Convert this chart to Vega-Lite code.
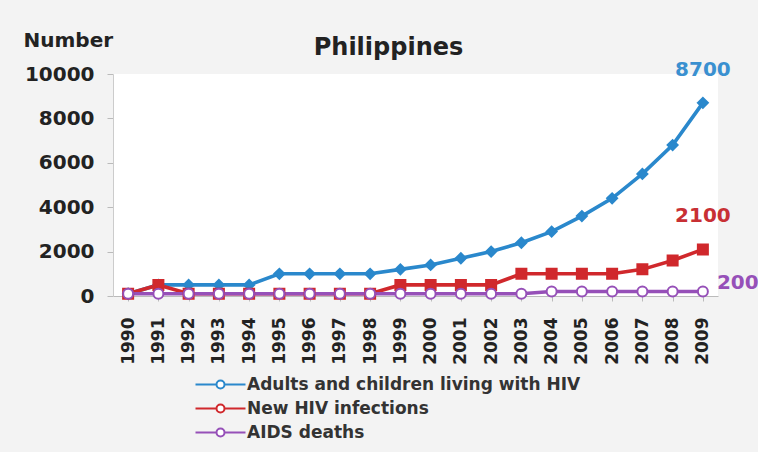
{
  "$schema": "https://vega.github.io/schema/vega-lite/v6.json",
  "autosize": {"type": "none"},
  "width": 605,
  "height": 222,
  "padding": {"left": 113, "top": 74, "right": 40, "bottom": 156},
  "background": "#f3f3f3",
  "config": {
    "view": {"fill": "white", "stroke": null},
    "font": "DejaVu Sans"
  },
  "title": {
    "text": "Philippines",
    "fontSize": 24,
    "fontWeight": "bold",
    "color": "#222222",
    "anchor": "middle",
    "dx": -27,
    "offset": -30
  },
  "datasets": {
    "main": [
      {"year": "1990", "series": "Adults and children living with HIV", "value": 100},
      {"year": "1991", "series": "Adults and children living with HIV", "value": 500},
      {"year": "1992", "series": "Adults and children living with HIV", "value": 500},
      {"year": "1993", "series": "Adults and children living with HIV", "value": 500},
      {"year": "1994", "series": "Adults and children living with HIV", "value": 500},
      {"year": "1995", "series": "Adults and children living with HIV", "value": 1000},
      {"year": "1996", "series": "Adults and children living with HIV", "value": 1000},
      {"year": "1997", "series": "Adults and children living with HIV", "value": 1000},
      {"year": "1998", "series": "Adults and children living with HIV", "value": 1000},
      {"year": "1999", "series": "Adults and children living with HIV", "value": 1200},
      {"year": "2000", "series": "Adults and children living with HIV", "value": 1400},
      {"year": "2001", "series": "Adults and children living with HIV", "value": 1700},
      {"year": "2002", "series": "Adults and children living with HIV", "value": 2000},
      {"year": "2003", "series": "Adults and children living with HIV", "value": 2400},
      {"year": "2004", "series": "Adults and children living with HIV", "value": 2900},
      {"year": "2005", "series": "Adults and children living with HIV", "value": 3600},
      {"year": "2006", "series": "Adults and children living with HIV", "value": 4400},
      {"year": "2007", "series": "Adults and children living with HIV", "value": 5500},
      {"year": "2008", "series": "Adults and children living with HIV", "value": 6800},
      {"year": "2009", "series": "Adults and children living with HIV", "value": 8700},
      {"year": "1990", "series": "New HIV infections", "value": 100},
      {"year": "1991", "series": "New HIV infections", "value": 500},
      {"year": "1992", "series": "New HIV infections", "value": 100},
      {"year": "1993", "series": "New HIV infections", "value": 100},
      {"year": "1994", "series": "New HIV infections", "value": 100},
      {"year": "1995", "series": "New HIV infections", "value": 100},
      {"year": "1996", "series": "New HIV infections", "value": 100},
      {"year": "1997", "series": "New HIV infections", "value": 100},
      {"year": "1998", "series": "New HIV infections", "value": 100},
      {"year": "1999", "series": "New HIV infections", "value": 500},
      {"year": "2000", "series": "New HIV infections", "value": 500},
      {"year": "2001", "series": "New HIV infections", "value": 500},
      {"year": "2002", "series": "New HIV infections", "value": 500},
      {"year": "2003", "series": "New HIV infections", "value": 1000},
      {"year": "2004", "series": "New HIV infections", "value": 1000},
      {"year": "2005", "series": "New HIV infections", "value": 1000},
      {"year": "2006", "series": "New HIV infections", "value": 1000},
      {"year": "2007", "series": "New HIV infections", "value": 1200},
      {"year": "2008", "series": "New HIV infections", "value": 1600},
      {"year": "2009", "series": "New HIV infections", "value": 2100},
      {"year": "1990", "series": "AIDS deaths", "value": 100},
      {"year": "1991", "series": "AIDS deaths", "value": 100},
      {"year": "1992", "series": "AIDS deaths", "value": 100},
      {"year": "1993", "series": "AIDS deaths", "value": 100},
      {"year": "1994", "series": "AIDS deaths", "value": 100},
      {"year": "1995", "series": "AIDS deaths", "value": 100},
      {"year": "1996", "series": "AIDS deaths", "value": 100},
      {"year": "1997", "series": "AIDS deaths", "value": 100},
      {"year": "1998", "series": "AIDS deaths", "value": 100},
      {"year": "1999", "series": "AIDS deaths", "value": 100},
      {"year": "2000", "series": "AIDS deaths", "value": 100},
      {"year": "2001", "series": "AIDS deaths", "value": 100},
      {"year": "2002", "series": "AIDS deaths", "value": 100},
      {"year": "2003", "series": "AIDS deaths", "value": 100},
      {"year": "2004", "series": "AIDS deaths", "value": 200},
      {"year": "2005", "series": "AIDS deaths", "value": 200},
      {"year": "2006", "series": "AIDS deaths", "value": 200},
      {"year": "2007", "series": "AIDS deaths", "value": 200},
      {"year": "2008", "series": "AIDS deaths", "value": 200},
      {"year": "2009", "series": "AIDS deaths", "value": 200}
    ],
    "labels": [
      {"year": "2009", "series": "Adults and children living with HIV", "value": 8700, "label": "8700"},
      {"year": "2009", "series": "New HIV infections", "value": 2100, "label": "2100"},
      {"year": "2009", "series": "AIDS deaths", "value": 200, "label": "200"}
    ]
  },
  "encoding": {
    "x": {
      "field": "year",
      "type": "ordinal",
      "scale": {"type": "point", "padding": 0.5},
      "axis": {
        "title": null,
        "labelAngle": 270,
        "labelFontSize": 17,
        "labelFontWeight": "bold",
        "labelColor": "#222222",
        "labelPadding": 16,
        "tickColor": "#bbbbbb",
        "tickSize": 5,
        "domainColor": "#bbbbbb"
      }
    },
    "y": {
      "field": "value",
      "type": "quantitative",
      "scale": {"domain": [0, 10000]},
      "axis": {
        "title": "Number",
        "titleAngle": 0,
        "titleAlign": "left",
        "titleBaseline": "middle",
        "titleX": -90,
        "titleY": -34,
        "titleFontSize": 20,
        "titleFontWeight": "bold",
        "titleColor": "#222222",
        "values": [0, 2000, 4000, 6000, 8000, 10000],
        "format": "d",
        "labelFontSize": 20,
        "labelFontWeight": "bold",
        "labelColor": "#222222",
        "labelPadding": 13,
        "grid": false,
        "tickColor": "#bbbbbb",
        "tickSize": 6,
        "domainColor": "#cccccc"
      }
    }
  },
  "layer": [
    {
      "data": {"name": "main"},
      "mark": {"type": "line", "strokeWidth": 3.6},
      "encoding": {
        "color": {
          "field": "series",
          "type": "nominal",
          "scale": {
            "domain": ["Adults and children living with HIV", "New HIV infections", "AIDS deaths"],
            "range": ["#2a88cc", "#d0282c", "#9650b8"]
          },
          "legend": {
            "title": null,
            "orient": "none",
            "legendX": 99,
            "legendY": 302,
            "padding": 0,
            "direction": "vertical",
            "labelFontSize": 17,
            "labelFontWeight": "bold",
            "labelColor": "#333333",
            "labelLimit": 0,
            "rowPadding": 6,
            "symbolType": "M-5,0H-0.8M0.8,0H5M-0.8,0A0.8,0.8 0 1,0 0.8,0A0.8,0.8 0 1,0 -0.8,0",
            "symbolSize": 100,
            "symbolStrokeWidth": 2,
            "symbolFillColor": "white",
            "labelOffset": 18
          }
        }
      }
    },
    {
      "data": {"name": "main"},
      "mark": {"type": "point", "size": 100, "strokeWidth": 2, "opacity": 1, "filled": false},
      "encoding": {
        "shape": {
          "condition": [
            {"test": "datum.series === 'Adults and children living with HIV'", "value": "diamond"},
            {"test": "datum.series === 'New HIV infections'", "value": "square"}
          ],
          "value": "circle"
        },
        "stroke": {
          "condition": [
            {"test": "datum.series === 'Adults and children living with HIV'", "value": "#2a88cc"},
            {"test": "datum.series === 'New HIV infections'", "value": "#d0282c"}
          ],
          "value": "#9650b8"
        },
        "fill": {
          "condition": [
            {"test": "datum.series === 'Adults and children living with HIV'", "value": "#2a88cc"},
            {"test": "datum.series === 'New HIV infections'", "value": "#d0282c"}
          ],
          "value": "#ffffff"
        }
      }
    },
    {
      "data": {"name": "labels"},
      "transform": [{"filter": "datum.series !== 'AIDS deaths'"}],
      "mark": {"type": "text", "fontSize": 20, "fontWeight": "bold", "align": "center", "baseline": "middle", "dx": 0, "dy": -33},
      "encoding": {
        "text": {"field": "label"},
        "color": {
          "condition": {"test": "datum.series === 'New HIV infections'", "value": "#c83034"},
          "value": "#3a90d0"
        }
      }
    },
    {
      "data": {"name": "labels"},
      "transform": [{"filter": "datum.series === 'AIDS deaths'"}],
      "mark": {"type": "text", "fontSize": 20, "fontWeight": "bold", "align": "left", "baseline": "middle", "dx": 14, "dy": -9, "color": "#9650b8"},
      "encoding": {
        "text": {"field": "label"}
      }
    }
  ]
}
